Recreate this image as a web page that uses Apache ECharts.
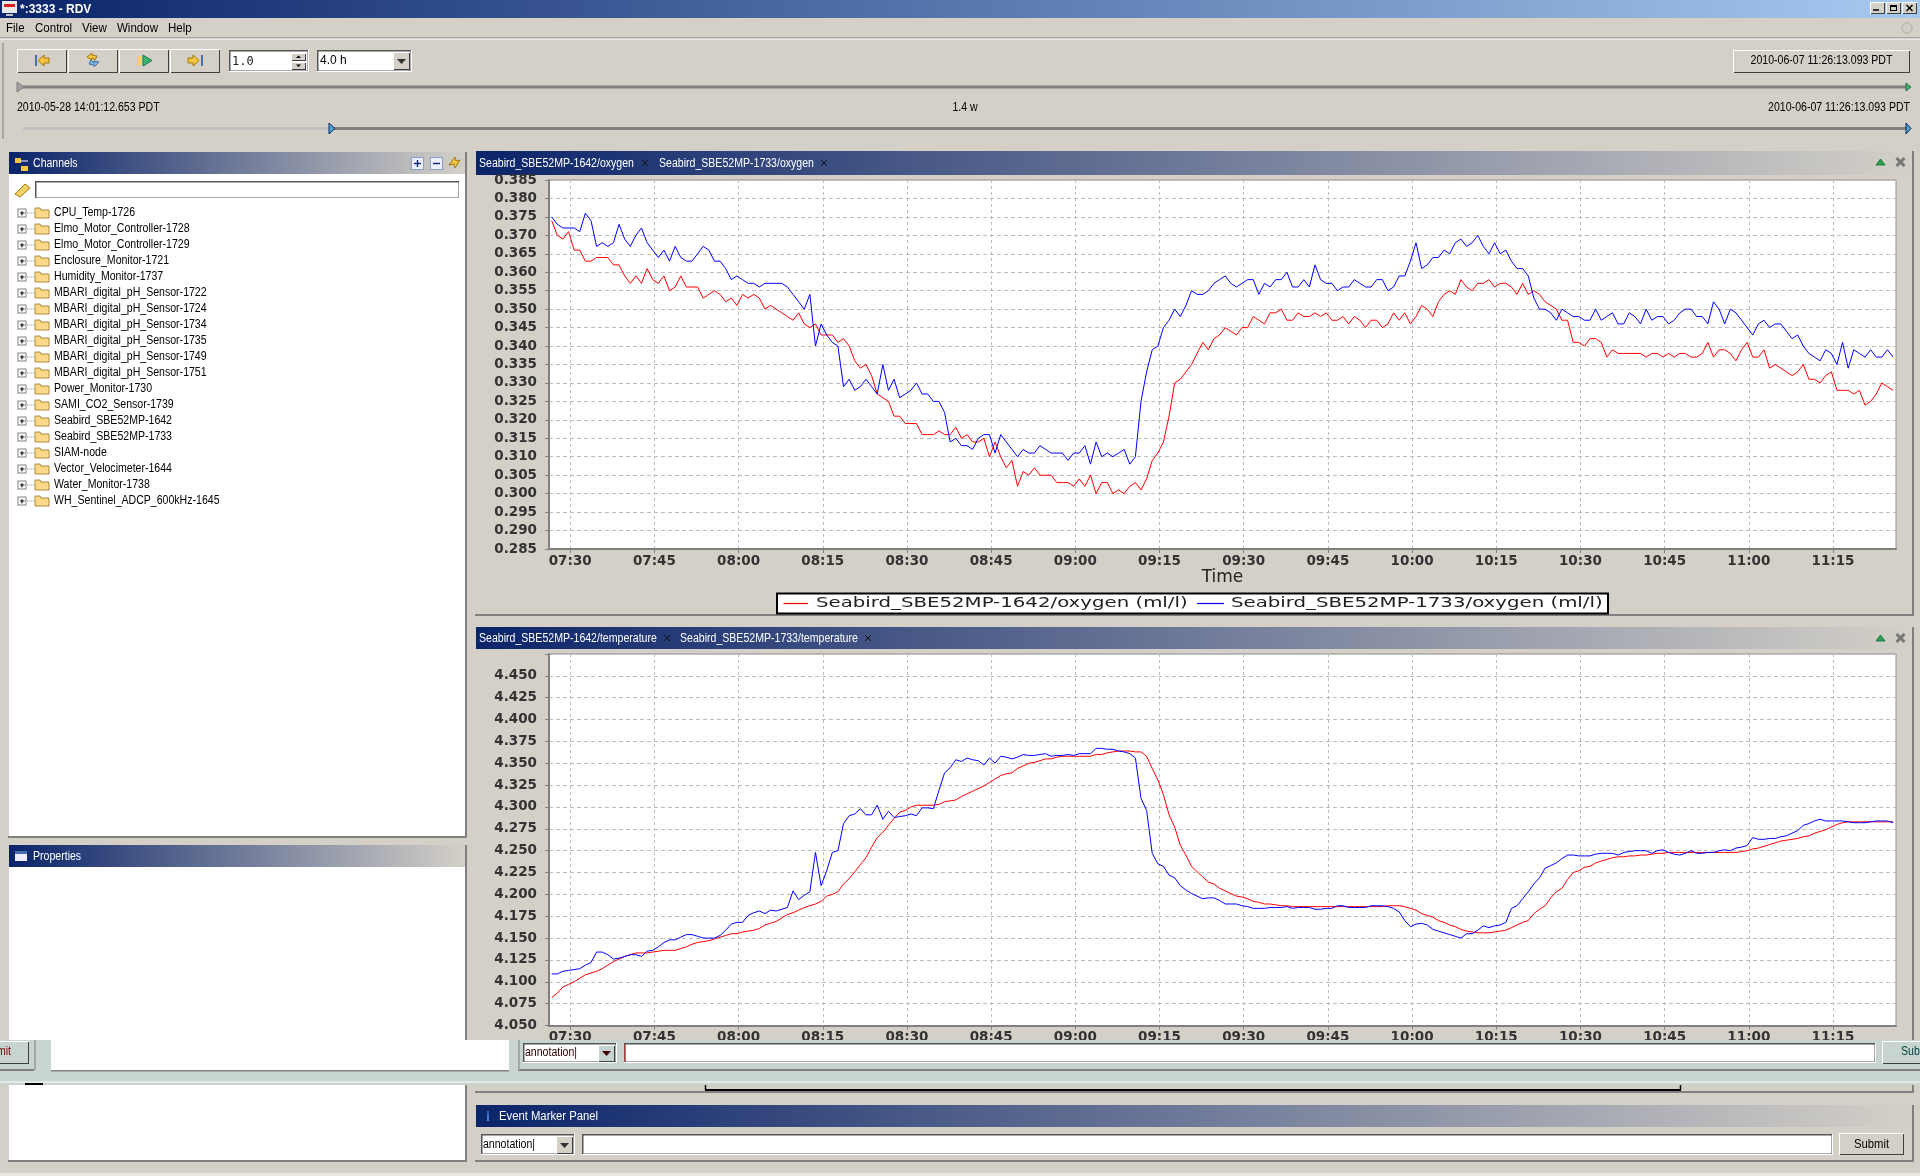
<!DOCTYPE html>
<html><head><meta charset="utf-8"><title>RDV</title>
<style>html,body{margin:0;padding:0;background:#d4d0c8}#c{width:1920px;height:1176px}</style>
<script src="https://cdn.jsdelivr.net/npm/echarts@6/dist/echarts.min.js"></script>
</head><body><div id="c"></div>
<script>
// ---- data: one sample per minute ----
const firstSampleMinute = 446.7; // 07:26:42
const oxygen1642 = [
.374,.370,.369,.371,.366,.366,.363,.363,.364,.364,
.364,.362,.362,.359,.357,.359,.357,.361,.358,.357,
.359,.355,.356,.359,.356,.356,.356,.353,.354,.355,
.354,.352,.353,.351,.354,.353,.354,.353,.350,.351,
.350,.349,.348,.347,.349,.346,.345,.346,.343,.343,
.343,.341,.342,.340,.336,.334,.335,.332,.327,.326,
.325,.321,.321,.319,.319,.319,.316,.316,.316,.317,
.316,.316,.318,.315,.316,.314,.314,.315,.310,.314,
.310,.307,.309,.302,.306,.305,.307,.305,.305,.305,
.303,.303,.303,.302,.304,.302,.305,.300,.303,.303,
.300,.301,.300,.302,.303,.301,.304,.309,.311,.314,
.321,.330,.331,.333,.335,.338,.341,.339,.342,.343,
.345,.344,.343,.345,.345,.348,.347,.346,.349,.349,
.350,.347,.347,.349,.348,.348,.349,.348,.349,.347,
.347,.348,.346,.348,.347,.345,.347,.347,.345,.346,
.349,.347,.349,.346,.348,.351,.350,.348,.352,.354,
.355,.354,.358,.356,.355,.357,.357,.358,.356,.357,
.357,.356,.354,.357,.354,.355,.354,.352,.351,.350,
.347,.347,.341,.341,.340,.342,.342,.341,.337,.339,
.338,.338,.338,.338,.338,.337,.338,.338,.337,.338,
.337,.338,.338,.337,.337,.338,.341,.337,.339,.339,
.338,.336,.339,.341,.337,.337,.339,.334,.335,.334,
.333,.332,.333,.335,.331,.331,.330,.332,.333,.328,
.328,.328,.327,.328,.324,.325,.327,.330,.329,.328];
const oxygen1733 = [
.375,.373,.372,.372,.372,.371,.376,.374,.367,.368,
.367,.368,.373,.369,.367,.370,.372,.368,.366,.364,
.366,.363,.367,.364,.363,.363,.365,.367,.366,.363,
.363,.361,.358,.359,.358,.357,.357,.356,.357,.357,
.357,.357,.356,.354,.352,.350,.354,.340,.346,.343,
.341,.340,.329,.331,.328,.329,.331,.329,.327,.335,
.328,.331,.326,.327,.328,.330,.327,.327,.325,.325,
.322,.314,.315,.313,.313,.312,.315,.316,.316,.311,
.316,.314,.312,.310,.312,.311,.311,.313,.312,.311,
.311,.311,.309,.311,.311,.313,.308,.314,.310,.311,
.310,.311,.312,.308,.310,.325,.333,.339,.340,.345,
.347,.350,.348,.351,.355,.354,.354,.355,.357,.358,
.359,.357,.356,.357,.358,.358,.354,.357,.356,.358,
.358,.360,.356,.356,.358,.356,.362,.358,.357,.357,
.355,.356,.356,.358,.357,.356,.356,.358,.358,.355,
.356,.359,.359,.363,.368,.361,.362,.364,.364,.366,
.365,.368,.369,.367,.368,.370,.367,.365,.368,.365,
.366,.363,.361,.361,.359,.353,.350,.350,.349,.347,
.350,.349,.348,.348,.347,.347,.350,.347,.348,.349,
.346,.346,.349,.348,.346,.350,.347,.348,.348,.346,
.347,.349,.350,.350,.348,.348,.346,.352,.350,.346,
.350,.349,.347,.345,.343,.346,.347,.345,.346,.346,
.344,.342,.343,.340,.338,.337,.336,.339,.338,.335,
.341,.334,.339,.338,.337,.339,.337,.337,.339,.337];
const temperature1642 = [
4.082,4.087,4.094,4.097,4.100,4.104,4.108,4.110,4.112,4.115,
4.119,4.123,4.126,4.129,4.131,4.133,4.133,4.133,4.134,4.135,
4.136,4.136,4.136,4.138,4.140,4.143,4.145,4.146,4.147,4.149,
4.151,4.153,4.155,4.155,4.157,4.158,4.159,4.161,4.165,4.167,
4.169,4.173,4.177,4.179,4.182,4.185,4.187,4.189,4.192,4.198,
4.200,4.203,4.212,4.218,4.226,4.234,4.242,4.254,4.265,4.271,
4.279,4.287,4.294,4.296,4.300,4.302,4.302,4.302,4.302,4.303,
4.306,4.307,4.308,4.312,4.315,4.318,4.321,4.324,4.328,4.332,
4.336,4.338,4.339,4.344,4.347,4.350,4.351,4.353,4.355,4.355,
4.357,4.358,4.358,4.358,4.358,4.358,4.358,4.360,4.360,4.362,
4.363,4.364,4.364,4.364,4.363,4.363,4.358,4.344,4.331,4.314,
4.291,4.277,4.256,4.245,4.232,4.226,4.220,4.214,4.212,4.207,
4.204,4.201,4.198,4.197,4.195,4.192,4.191,4.189,4.189,4.188,
4.187,4.187,4.186,4.186,4.186,4.186,4.186,4.186,4.186,4.186,
4.186,4.186,4.186,4.186,4.186,4.186,4.186,4.186,4.186,4.187,
4.187,4.187,4.186,4.184,4.182,4.178,4.176,4.174,4.170,4.168,
4.165,4.163,4.160,4.158,4.157,4.156,4.156,4.156,4.157,4.158,
4.159,4.162,4.165,4.168,4.170,4.178,4.183,4.187,4.196,4.203,
4.207,4.217,4.225,4.227,4.231,4.232,4.236,4.238,4.240,4.242,
4.243,4.243,4.244,4.244,4.245,4.245,4.246,4.247,4.247,4.248,
4.248,4.248,4.248,4.248,4.248,4.248,4.248,4.248,4.248,4.248,
4.248,4.248,4.249,4.250,4.252,4.253,4.255,4.257,4.259,4.261,
4.262,4.263,4.264,4.266,4.267,4.270,4.272,4.274,4.277,4.280,
4.282,4.283,4.283,4.283,4.283,4.283,4.283,4.283,4.283,4.283];
const temperature1733 = [
4.109,4.109,4.112,4.113,4.114,4.115,4.119,4.122,4.134,4.134,
4.131,4.126,4.127,4.129,4.131,4.131,4.129,4.135,4.136,4.140,
4.145,4.148,4.148,4.151,4.154,4.154,4.152,4.150,4.150,4.150,
4.153,4.159,4.166,4.168,4.168,4.176,4.179,4.181,4.178,4.182,
4.181,4.183,4.185,4.204,4.194,4.199,4.203,4.248,4.210,4.227,
4.248,4.250,4.281,4.290,4.292,4.298,4.291,4.291,4.302,4.286,
4.295,4.288,4.289,4.290,4.292,4.290,4.299,4.299,4.298,4.319,
4.339,4.345,4.354,4.352,4.356,4.354,4.353,4.348,4.356,4.350,
4.358,4.357,4.355,4.357,4.360,4.359,4.359,4.360,4.361,4.358,
4.359,4.359,4.360,4.359,4.361,4.361,4.361,4.367,4.367,4.366,
4.366,4.364,4.363,4.361,4.356,4.310,4.296,4.247,4.235,4.232,
4.222,4.219,4.210,4.205,4.201,4.198,4.195,4.196,4.196,4.193,
4.189,4.189,4.189,4.187,4.186,4.184,4.184,4.184,4.185,4.185,
4.185,4.186,4.184,4.185,4.185,4.185,4.183,4.183,4.184,4.184,
4.187,4.187,4.185,4.185,4.185,4.185,4.187,4.187,4.187,4.186,
4.184,4.180,4.170,4.163,4.166,4.167,4.165,4.160,4.158,4.156,
4.154,4.152,4.150,4.155,4.155,4.159,4.164,4.162,4.164,4.165,
4.168,4.184,4.187,4.195,4.203,4.212,4.219,4.230,4.233,4.236,
4.241,4.245,4.245,4.244,4.244,4.244,4.246,4.247,4.247,4.247,
4.245,4.248,4.249,4.250,4.250,4.250,4.247,4.250,4.251,4.248,
4.246,4.245,4.247,4.250,4.247,4.247,4.248,4.248,4.250,4.251,
4.250,4.253,4.254,4.256,4.265,4.263,4.263,4.264,4.264,4.266,
4.267,4.270,4.273,4.279,4.281,4.284,4.286,4.284,4.284,4.284,
4.284,4.283,4.282,4.282,4.282,4.283,4.284,4.284,4.284,4.282];
const xTickMinutes = [450,465,480,495,510,525,540,555,570,585,600,615,630,645,660,675];
const xTickLabels = ['07:30','07:45','08:00','08:15','08:30','08:45','09:00','09:15','09:30','09:45','10:00','10:15','10:30','10:45','11:00','11:15'];
const channels = ['CPU_Temp-1726','Elmo_Motor_Controller-1728','Elmo_Motor_Controller-1729','Enclosure_Monitor-1721','Humidity_Monitor-1737','MBARI_digital_pH_Sensor-1722','MBARI_digital_pH_Sensor-1724','MBARI_digital_pH_Sensor-1734','MBARI_digital_pH_Sensor-1735','MBARI_digital_pH_Sensor-1749','MBARI_digital_pH_Sensor-1751','Power_Monitor-1730','SAMI_CO2_Sensor-1739','Seabird_SBE52MP-1642','Seabird_SBE52MP-1733','SIAM-node','Vector_Velocimeter-1644','Water_Monitor-1738','WH_Sentinel_ADCP_600kHz-1645'];
const oxyNames = ['Seabird_SBE52MP-1642/oxygen (ml/l)','Seabird_SBE52MP-1733/oxygen (ml/l)'];
const tempNames = ['Seabird_SBE52MP-1642/temperature','Seabird_SBE52MP-1733/temperature'];
const RED = '#ff0000', BLUE = '#0000ff';

// ---- helpers for the surrounding application window ----
const FACE = '#d4d0c8', BAND = '#c8d4d0';
const UI = '12px "Liberation Sans", sans-serif';
let Z = -10;
const gfx = [];
const rect = (x,y,w,h,fill,z) => gfx.push({type:'rect',silent:true,z:z===undefined?Z:z,shape:{x,y,width:w,height:h},style:{fill}});
const line = (x1,y1,x2,y2,c,w,z,dash) => gfx.push({type:'line',silent:true,z:z===undefined?Z:z,shape:{x1,y1,x2,y2},style:{stroke:c,lineWidth:w||1,lineDash:dash}});
const poly = (pts,fill,stroke,z) => gfx.push({type:'polygon',silent:true,z:z===undefined?Z:z,shape:{points:pts},style:{fill,stroke,lineWidth:stroke?1:0}});
const text = (x,y,t,fill,font,align,z,sx) => gfx.push({type:'text',silent:true,z:z===undefined?Z:z,x,y,scaleX:sx===undefined?0.88:sx,style:{text:t,fill:fill||'#000',font:font||UI,align:align||'left',verticalAlign:'middle',textAlign:align||'left',textVerticalAlign:'middle'}});
const raised = (x,y,w,h,z) => {rect(x,y,w,h,'#fff',z);rect(x+1,y+1,w-1,h-1,'#404040',z);rect(x+1,y+1,w-2,h-2,FACE,z);};
const sunken = (x,y,w,h,z,fill) => {rect(x,y,w,h,'#fff',z);rect(x,y,w-1,h-1,'#555',z);rect(x+1.5,y+1.5,w-3,h-3,fill||'#fff',z);};
const grad = (a,b) => ({type:'linear',x:0,y:0,x2:1,y2:0,colorStops:[{offset:0,color:a},{offset:1,color:b}]});
const titleBar = (x,y,w,h) => {rect(x,y,w,h,grad('#0a246a',FACE));};
const panel = (x,y,w,h) => {rect(x,y,w,h,'#808080');rect(x,y,w-2,h-2,FACE);};
const closeX = (x,y,c,s,w) => {line(x-s,y-s,x+s,y+s,c,w);line(x-s,y+s,x+s,y-s,c,w);};
const folder = (x,y) => poly([[x,y-5],[x+5,y-5],[x+6,y-3],[x+14,y-3],[x+14,y+5],[x,y+5]],'#fbd98a','#b08a3a');
const plusBox = (x,y) => {rect(x-4.5,y-4.5,9,9,'#808080');rect(x-3.5,y-3.5,7,7,'#fff');line(x-2,y,x+2.5,y,'#000');line(x,y-2,x,y+2.5,'#000');line(x+5,y,x+12,y,'#999',1,Z,[1,1]);};

// window frame
rect(0,0,1920,1176,FACE);
rect(0,0,1920,18,grad('#0a246a','#a6caf0'));
rect(2,1,15,12,'#e8e8e8');rect(4,4,11,3,'#e02020');rect(6,14,7,2,'#c0c0c0');
text(20,10,'*:3333 - RDV','#fff','bold 12px "Liberation Sans", sans-serif','left',Z,1);
[1870,1886,1902].forEach(x=>raised(x,2,15,12));
line(1873,10,1879,10,'#000',1.5);rect(1890,5,7,6,'#000');rect(1891,7,5,3,FACE);closeX(1909.5,8,'#000',3,1.4);
[['File',6],['Control',35],['View',82],['Window',117],['Help',168]].forEach(m=>text(m[1],29,m[0],'#000',UI,'left',Z,0.96));
line(0,38,1920,38,'#808080');line(0,39,1920,39,'#fff');
rect(2,43,2,96,'#a8a8a0');
gfx.push({type:'circle',silent:true,z:Z,shape:{cx:1907,cy:28,r:5},style:{fill:'none',stroke:'#c0bdb5',lineWidth:2}});

// toolbar
[17,68,119,170].forEach(x=>raised(x,49,50,24));
rect(35,55,2,11,'#4a6fb0');poly([[38,60.5],[44,55],[44,58],[49,58],[49,63],[44,63],[44,66]],'#f5c542','#a07810');
poly([[87,57],[92,53],[92,55],[97,56],[95,60],[92,58],[92,60]],'#f5c542','#a07810');poly([[99,62],[94,67],[94,65],[89,64],[91,60],[94,63],[94,61]],'#7fb3e0','#3a6ea5');
rect(137,56,4,9,'#f5d062');poly([[143,55],[152,60.5],[143,66]],'#3cb371','#1d7a45');
poly([[199,60.5],[193,55],[193,58],[188,58],[188,63],[193,63],[193,66]],'#f5c542','#a07810');rect(201,55,2,11,'#4a6fb0');
sunken(229,50,80,22);text(232,62,'1.0','#222','12px "DejaVu Sans Mono", monospace','left',Z,1);
raised(291,53,15,8);raised(291,62,15,8);poly([[296,58],[301,58],[298.5,55.5]],'#000');poly([[296,64.5],[301,64.5],[298.5,67]],'#000');
sunken(317,50,95,22);text(320,61,'4.0 h','#000',UI,'left',Z,1);
raised(393,52,17,18);poly([[397,59],[406,59],[401.5,64]],'#333');
raised(1733,50,177,23);text(1821.5,61,'2010-06-07 11:26:13.093 PDT','#000',UI,'center');

// time sliders
rect(20,85.5,1888,3,'#808080');poly([[17,82],[24,87],[17,92]],'#a0a0a0','#808080');poly([[1906,83],[1911,87],[1906,91]],'#3cb371','#2f6f48');
text(17,108,'2010-05-28 14:01:12.653 PDT');text(965,108,'1.4 w','#000',UI,'center');text(1910,108,'2010-06-07 11:26:13.093 PDT','#000',UI,'right');
rect(23,127,307,3,'#c0c0c0');rect(333,127,1574,3,'#808080');
poly([[329,123],[335,128.5],[329,134]],'#4fa3c7','#0a246a');poly([[1906,123],[1911,128.5],[1906,134]],'#4fa3c7','#0a246a');

// channels panel
panel(8,152,459,686);titleBar(9,152,456,22);rect(9,174,456,662,'#fff');
rect(15,158,6,5,'#f5c542');rect(21,166,7,5,'#f5c542');line(20,161,28,161,'#fff');
text(33,164,'Channels','#fff');
[[411,'+'],[430,'-']].forEach(a=>{rect(a[0],157,13,13,'#8aa0c8');rect(a[0]+1,158,11,11,'#eef');line(a[0]+3,163.5,a[0]+10,163.5,'#0a246a',1.4);if(a[1]=='+')line(a[0]+6.5,160,a[0]+6.5,167,'#0a246a',1.4);});
poly([[449,165],[455,157],[456,161],[460,160],[455,168],[454,164]],'#f5c542','#a07810');
poly([[15,194],[25,184],[30,188],[20,197]],'#f5d062','#a07810');sunken(35,181,425,18);
channels.forEach((c,i)=>{const y=213+16*i;plusBox(22,y);folder(35,y);text(54,y,c,'#000');});

// properties panel
panel(8,845,459,317);titleBar(9,845,456,22);rect(9,867,456,293,'#fff');
rect(15,851,12,10,'#eef');rect(15,851,12,3,'#4a6fb0');text(33,857,'Properties','#fff');

// chart panels
panel(475,151,1439,465);titleBar(476,151,1436,24);
text(479,164,tempNames[0].replace('temperature','oxygen'),'#fff');closeX(645,163,'#111',3,1);
text(659,164,tempNames[1].replace('temperature','oxygen'),'#fff');closeX(824,163,'#111',3,1);
panel(475,627,1439,466);titleBar(476,627,1436,22);
text(479,639,tempNames[0],'#fff');closeX(667,638,'#111',3,1);
text(680,639,tempNames[1],'#fff');closeX(868,638,'#111',3,1);
[[162],[638]].forEach(a=>{poly([[1876,a[0]+3],[1885,a[0]+3],[1880.5,a[0]-3]],'#2e9e4f','#1d7a45');closeX(1900.5,a[0],'#777',4,3);});

// event marker panel
panel(475,1105,1439,57);rect(476,1105,1436,22,grad('#0a246a',FACE));
text(486,1117,'i','#3a7fd0','bold 14px "Liberation Serif", serif','left',Z,1);text(499,1116.5,'Event Marker Panel','#fff',UI,'left',Z,0.94);
sunken(481,1134,94,21);text(483,1144.5,'annotation|','#000');raised(556,1136,17,18);poly([[560,1143],[569,1143],[564.5,1148]],'#333');
sunken(582,1134,1251,21);raised(1839,1133,65,22);text(1871.5,1144.5,'Submit','#000',UI,'center',Z,0.94);
rect(0,1173,1920,3,'#e8e6e0');

// legend box of the oxygen chart
const L = 5, legendFont = '14px "DejaVu Sans", sans-serif';
rect(776,592.5,833,22,'#000',L);rect(778,594.5,829,18,'#fff',L);
line(783.5,603.5,808,603.5,RED,1.2,L);text(816,603,oxyNames[0],'#222',legendFont,'left',L,1.41);
line(1197,603.5,1224,603.5,BLUE,1.2,L);text(1231,603,oxyNames[1],'#222',legendFont,'left',L,1.41);

// the ghost strip left by screen redraw, above the chart
const G = 100;
rect(0,1040,1920,45,BAND,G);
rect(0,1069,34,2,'#808080',G);rect(518,1069,1402,2,'#808080',G);
rect(34,1040,2,30,'#a0a8a4',G);rect(518,1040,2,30,'#a0a8a4',G);
raised(-20,1041,49,23,G);rect(-19,1042,47,21,BAND,G);text(11,1052,'mit','#800000',UI,'right',G);
rect(51,1040,458,30,'#fff',G);rect(51,1070,458,1.5,'#808080',G);
sunken(523,1043,94,20,G);text(525,1052.5,'annotation|','#300',UI,'left',G);raised(598,1045,17,17,G);rect(599,1046,15,15,BAND,G);poly([[602,1051],[611,1051],[606.5,1056]],'#400',undefined,G);
sunken(624,1043,1252,20,G);line(625,1044,625,1062,'#e03030',1,G);
raised(1882,1041,60,23,G);rect(1883,1042,58,21,BAND,G);text(1901,1052,'Subm','#004040',UI,'left',G);
line(0,1082,1920,1082,'#fff',1,G);
rect(705,1085,976,5,FACE,G);line(705,1090,1681,1090,'#000',2,G);line(705.5,1085,705.5,1090,'#000',1.5,G);line(1680.5,1085,1680.5,1090,'#000',1.5,G);
rect(25,1083,18,2,'#000',G);

// ---- chart ----
const pairs = vals => vals.map((v,k)=>[firstSampleMinute+k,v]);
const xAxisOf = (g,name) => ({type:'value',gridIndex:g,min:446.22,max:686.22,name,nameLocation:'middle',nameGap:19,
  nameTextStyle:{fontFamily:'DejaVu Sans',fontSize:17,color:'#222',padding:[0,0,0,0]},
  axisLine:{onZero:false,lineStyle:{color:'#808080',width:2}},
  axisTick:{customValues:xTickMinutes,length:4,lineStyle:{color:'#808080'}},
  axisLabel:{customValues:xTickMinutes,margin:5,fontFamily:'DejaVu Sans',fontWeight:'bold',fontSize:13.5,color:'#333',formatter:v=>xTickLabels[xTickMinutes.indexOf(v)]||''},
  splitLine:{show:true,lineStyle:{color:'#bdbdbd',type:[3,3]}}});
const yAxisOf = (g,min,max,interval,fmt) => ({type:'value',gridIndex:g,min,max,interval,
  axisLine:{show:true,onZero:false,lineStyle:{color:'#808080',width:2}},
  axisTick:{show:true,length:4,lineStyle:{color:'#808080'}},
  axisLabel:{margin:12,fontFamily:'DejaVu Sans',fontWeight:'bold',fontSize:13.5,color:'#333',formatter:fmt},
  splitLine:{show:true,lineStyle:{color:'#bdbdbd',type:[4,3]}}});
const lineSeries = (name,vals,color,idx) => ({type:'line',name,data:pairs(vals),xAxisIndex:idx,yAxisIndex:idx,symbol:'none',showSymbol:false,silent:true,
  lineStyle:{color,width:1},itemStyle:{color},emphasis:{disabled:true},animation:false});

const option = {
  animation:false,
  grid:[
    {left:549,width:1347,top:180,height:369,show:true,backgroundColor:'#fff',borderColor:'#909090',borderWidth:1},
    {left:549,width:1347,top:654,height:371.5,show:true,backgroundColor:'#fff',borderColor:'#909090',borderWidth:1}],
  xAxis:[xAxisOf(0,'Time'),xAxisOf(1,'')],
  yAxis:[yAxisOf(0,0.285,0.385,0.005,v=>v.toFixed(3)),
         yAxisOf(1,4.05,4.475,0.025,v=>v>4.46?'':v.toFixed(3))],
  series:[lineSeries(oxyNames[0],oxygen1642,RED,0),lineSeries(oxyNames[1],oxygen1733,BLUE,0),
          lineSeries(tempNames[0],temperature1642,RED,1),lineSeries(tempNames[1],temperature1733,BLUE,1)],
  graphic:{elements:gfx}
};
const chart = echarts.init(document.getElementById('c'),null,{renderer:'canvas',width:1920,height:1176});
chart.setOption(option);
</script></body></html>
